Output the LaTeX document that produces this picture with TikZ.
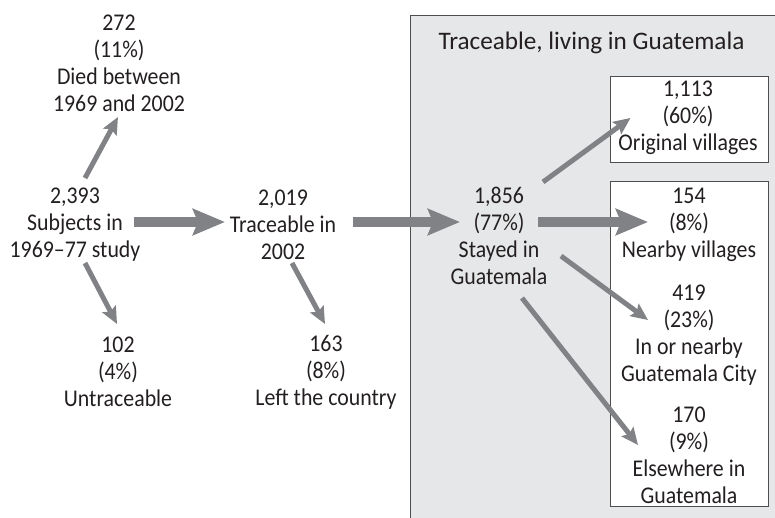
\documentclass[tikz,border=0pt]{standalone}
\usepackage{fontspec}
\setmainfont{Carlito}[FakeStretch=0.91]
\newfontfamily\titlefont{Carlito}
\usetikzlibrary{arrows.meta}
\definecolor{arrowgray}{HTML}{808285}
\definecolor{panelgray}{HTML}{E6E7E8}
\definecolor{boxline}{HTML}{4D4D4D}
\definecolor{ink}{HTML}{231F20}
\tikzset{
  lbl/.style={align=center, inner sep=0pt, text=ink, font=\fontsize{24}{27}\selectfont},
  titlelbl/.style={inner sep=0pt, text=ink, font=\titlefont\fontsize{25.2}{27}\selectfont},
  bigarrow/.style={draw=arrowgray, line width=10pt, -{Stealth[length=32pt,width=26pt,inset=5pt]}},
  thinarrow/.style={draw=arrowgray, line width=5pt, -{Stealth[length=17pt,width=15pt,inset=3pt]}},
  whitebox/.style={draw=boxline, fill=white, line width=0.9pt}
}
\begin{document}
\begin{tikzpicture}[x=1pt,y=-1pt]
\useasboundingbox (0,0) rectangle (775,517);
% panel
\draw[boxline, fill=panelgray, line width=0.9pt] (410,15) rectangle (790,530);
\node[titlelbl] (title) at (591.5,43) {Traceable, living in Guatemala};
\node[whitebox, minimum width=158pt, minimum height=86pt, inner sep=0pt] (box1) at (689,119) {};
\draw[whitebox] (610,181) rectangle (768,506);
% texts
\node[lbl] (died) at (119,63) {272\\(11\%)\\Died between\\1969 and 2002};
\node[lbl] (subj) at (75,225) {2,393\\Subjects in\\1969--77 study};
\node[lbl] (trace) at (283,225) {2,019\\Traceable in\\2002};
\node[lbl] (untr) at (118,372) {102\\(4\%)\\Untraceable};
\node[lbl] (left) at (326,372) {163\\(8\%)\\Left the country};
\node[lbl] (stay) at (499,236) {1,856\\(77\%)\\Stayed in\\Guatemala};
\node[lbl] (orig) at (688,118) {1,113\\(60\%)\\Original villages};
\node[lbl] (near) at (689,225) {154\\(8\%)\\Nearby villages};
\node[lbl] (city) at (689,335) {419\\(23\%)\\In or nearby\\Guatemala City};
\node[lbl] (else) at (689,455) {170\\(9\%)\\Elsewhere in\\Guatemala};
% arrows
\draw[thinarrow] ([shift={(10,-47)}]subj.center) -- ([shift={(-1,54)}]died.center);
\draw[thinarrow] ([shift={(10,38)}]subj.center) -- ([shift={(-1,-48)}]untr.center);
\draw[bigarrow] ([shift={(59,-3)}]subj.center) -- ([shift={(-58,-3)}]trace.center);
\draw[bigarrow] ([shift={(70,-3)}]trace.center) -- ([shift={(-39,-14)}]stay.center);
\draw[thinarrow] ([shift={(9,38)}]trace.center) -- ([shift={(-1,-48)}]left.center);
\draw[bigarrow] ([shift={(39,-14)}]stay.center) -- ([shift={(-41,-3)}]near.center);
\draw[thinarrow] ([shift={(44,-54)}]stay.center) -- ([shift={(-58.5,-1)}]box1.center);
\draw[thinarrow] ([shift={(62,20)}]stay.center) -- ([shift={(-41,-15)}]city.center);
\draw[thinarrow] ([shift={(23,62)}]stay.center) -- ([shift={(-51,-10)}]else.center);
\end{tikzpicture}
\end{document}
